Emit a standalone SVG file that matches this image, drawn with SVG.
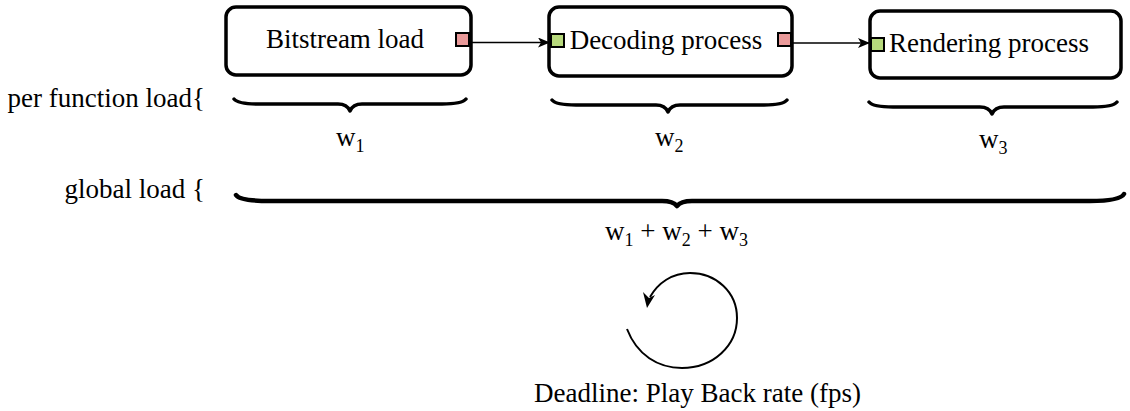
<svg xmlns="http://www.w3.org/2000/svg" width="1130" height="411" viewBox="0 0 1130 411">
<defs>
<style>
text{font-family:"Liberation Serif","Times New Roman",serif;fill:#000;}
.t{font-size:27px;}
.box{fill:#fff;stroke:#000;stroke-width:3.5;}
.out{fill:#EA9A9A;stroke:#000;stroke-width:2;}
.in{fill:#B7D97C;stroke:#000;stroke-width:2;}
.edge{fill:none;stroke:#000;stroke-width:1.6;}
.brace{fill:none;stroke:#000;stroke-width:3.5;stroke-linecap:round;stroke-linejoin:round;}
.sub{font-size:18px;}
</style>
<marker id="arr" viewBox="0 0 12 10" refX="12" refY="5" markerWidth="12" markerHeight="10" markerUnits="userSpaceOnUse" orient="auto">
<path d="M0,0 L12,5 L0,10 L3,5 Z" fill="#000"/>
</marker>
</defs>
<rect width="1130" height="411" fill="#fff"/>

<g id="bitstream">
<rect class="box" x="226" y="7" width="245" height="68" rx="10"/>
<text class="t" x="345" y="48" text-anchor="middle">Bitstream load</text>
<rect class="out" x="456" y="33" width="13" height="13"/>
</g>

<g id="decoding">
<rect class="box" x="549" y="7" width="243" height="69" rx="10"/>
<text class="t" x="666" y="49" text-anchor="middle">Decoding process</text>
<rect class="in" x="551" y="34" width="13" height="13"/>
<rect class="out" x="778" y="33" width="13" height="13"/>
</g>

<g id="rendering">
<rect class="box" x="870" y="11" width="251" height="67" rx="10"/>
<text class="t" x="989" y="52" text-anchor="middle">Rendering process</text>
<rect class="in" x="871" y="38" width="13" height="13"/>
</g>

<g id="connectors">
<line class="edge" x1="470" y1="42.5" x2="550" y2="42.5" marker-end="url(#arr)"/>
<line class="edge" x1="792" y1="43" x2="870" y2="43" marker-end="url(#arr)"/>
</g>

<g id="labels-left">
<text class="t" x="205" y="107" text-anchor="end">per function load{</text>
<text class="t" x="205" y="198" text-anchor="end">global load {</text>
</g>

<g id="braces">
<path class="brace" d="M234,99 Q238,104 258,104 L338,104 Q347,104 350,111 Q353,104 362,104 L442,104 Q462,104 466,99"/>
<path class="brace" d="M552,100 Q556,105 576,105 L656,105 Q665,105 668,112 Q671,105 680,105 L764,105 Q783,105 787,100"/>
<path class="brace" d="M869,102 Q873,107 893,107 L980,107 Q989,107 992,114 Q995,107 1004,107 L1093,107 Q1113,107 1117,102"/>
<path class="brace" style="stroke-width:4.5" d="M236,195 Q240,201 270,201 L662,201 Q673,201 677,206 Q681,201 692,201 L1090,201 Q1120,201 1124,194"/>
</g>

<g id="weights">
<text class="t" x="336" y="146">w<tspan class="sub" dy="6">1</tspan></text>
<text class="t" x="655" y="146">w<tspan class="sub" dy="6">2</tspan></text>
<text class="t" x="979" y="148">w<tspan class="sub" dy="6">3</tspan></text>
<text class="t" x="605" y="240">w<tspan class="sub" dy="6">1</tspan><tspan dy="-6"> + w</tspan><tspan class="sub" dy="6">2</tspan><tspan dy="-6"> + w</tspan><tspan class="sub" dy="6">3</tspan></text>
</g>

<g id="deadline">
<path fill="none" stroke="#000" stroke-width="2" d="M627,329 C637,355 658,368 682,368 C713,368 737,346 737,318 C737,292 716,273 690,273 C672,273 658,283 650,297"/>
<path d="M647,308 L643,292 L649,298 L655,295 Z" fill="#000"/>
<text class="t" x="534" y="402">Deadline: Play Back rate (fps)</text>
</g>
</svg>
